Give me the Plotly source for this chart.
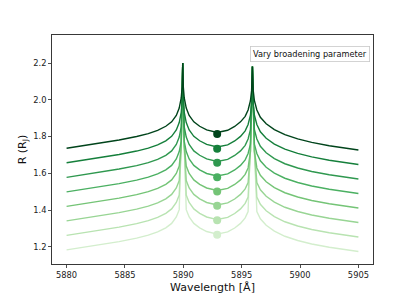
import plotly.graph_objects as go

# ---- data ----
wavelength = [5880, 5881.5, 5883, 5884.5, 5886, 5887, 5887.8, 5888.5, 5889.0, 5889.4,
              5889.65, 5889.82, 5889.9, 5889.95, 5890.0, 5890.08, 5890.25, 5890.5, 5890.9, 5891.4,
              5892.0, 5892.9, 5893.8, 5894.4, 5894.9, 5895.3, 5895.55, 5895.75, 5895.85, 5895.92,
              5895.99, 5896.09, 5896.3, 5896.6, 5897.1, 5897.8, 5898.7, 5899.8, 5901, 5902.5, 5905]

radius_b8 = [1.736, 1.750, 1.765, 1.781, 1.800, 1.816, 1.834, 1.856, 1.880, 1.915,
             1.955, 2.010, 2.070, 2.200, 2.070, 2.010, 1.955, 1.915, 1.880, 1.856,
             1.836, 1.822, 1.834, 1.855, 1.880, 1.910, 1.945, 1.995, 2.050, 2.181,
             2.050, 1.995, 1.945, 1.905, 1.870, 1.838, 1.810, 1.787, 1.768, 1.750, 1.727]
radius_b7 = [1.657, 1.671, 1.686, 1.702, 1.721, 1.737, 1.755, 1.777, 1.801, 1.836,
             1.876, 1.931, 2.000, 2.200, 2.000, 1.931, 1.876, 1.836, 1.801, 1.777,
             1.757, 1.743, 1.755, 1.776, 1.801, 1.831, 1.866, 1.916, 1.980, 2.181,
             1.980, 1.916, 1.866, 1.826, 1.791, 1.759, 1.731, 1.708, 1.689, 1.671, 1.648]
radius_b6 = [1.578, 1.592, 1.607, 1.623, 1.642, 1.658, 1.676, 1.698, 1.722, 1.757,
             1.797, 1.852, 2.000, 2.200, 2.000, 1.852, 1.797, 1.757, 1.722, 1.698,
             1.678, 1.664, 1.676, 1.697, 1.722, 1.752, 1.787, 1.837, 1.980, 2.181,
             1.980, 1.837, 1.787, 1.747, 1.712, 1.680, 1.652, 1.629, 1.610, 1.592, 1.569]
radius_b5 = [1.499, 1.513, 1.528, 1.544, 1.563, 1.579, 1.597, 1.619, 1.643, 1.678,
             1.718, 1.773, 2.000, 2.200, 2.000, 1.773, 1.718, 1.678, 1.643, 1.619,
             1.599, 1.585, 1.597, 1.618, 1.643, 1.673, 1.708, 1.758, 1.980, 2.181,
             1.980, 1.758, 1.708, 1.668, 1.633, 1.601, 1.573, 1.550, 1.531, 1.513, 1.490]
radius_b4 = [1.420, 1.434, 1.449, 1.465, 1.484, 1.500, 1.518, 1.540, 1.564, 1.599,
             1.639, 1.750, 2.000, 2.200, 2.000, 1.750, 1.639, 1.599, 1.564, 1.540,
             1.520, 1.506, 1.518, 1.539, 1.564, 1.594, 1.629, 1.720, 1.980, 2.181,
             1.980, 1.720, 1.629, 1.589, 1.554, 1.522, 1.494, 1.471, 1.452, 1.434, 1.411]
radius_b3 = [1.341, 1.355, 1.370, 1.386, 1.405, 1.421, 1.439, 1.461, 1.485, 1.520,
             1.560, 1.750, 2.000, 2.200, 2.000, 1.750, 1.560, 1.520, 1.485, 1.461,
             1.441, 1.427, 1.439, 1.460, 1.485, 1.515, 1.550, 1.720, 1.980, 2.181,
             1.980, 1.720, 1.550, 1.510, 1.475, 1.443, 1.415, 1.392, 1.373, 1.355, 1.332]
radius_b2 = [1.262, 1.276, 1.291, 1.307, 1.326, 1.342, 1.360, 1.382, 1.406, 1.441,
             1.481, 1.750, 2.000, 2.200, 2.000, 1.750, 1.481, 1.441, 1.406, 1.382,
             1.362, 1.348, 1.360, 1.381, 1.406, 1.436, 1.471, 1.720, 1.980, 2.181,
             1.980, 1.720, 1.471, 1.431, 1.396, 1.364, 1.336, 1.313, 1.294, 1.276, 1.253]
radius_b1 = [1.183, 1.197, 1.212, 1.228, 1.247, 1.263, 1.281, 1.303, 1.327, 1.362,
             1.402, 1.750, 2.000, 2.200, 2.000, 1.750, 1.402, 1.362, 1.327, 1.303,
             1.283, 1.269, 1.281, 1.302, 1.327, 1.357, 1.392, 1.720, 1.980, 2.181,
             1.980, 1.720, 1.392, 1.352, 1.317, 1.285, 1.257, 1.234, 1.215, 1.197, 1.174]

marker_wavelength = 5892.9
marker_radius = [1.265, 1.344, 1.423, 1.501, 1.579, 1.657, 1.734, 1.814]

colors = ["#d3eecd", "#b8e3b1", "#98d594", "#74c476", "#4bb062", "#2f984f", "#157f3b", "#00441b"]
curves = [radius_b1, radius_b2, radius_b3, radius_b4, radius_b5, radius_b6, radius_b7, radius_b8]

x_ticks = [5880, 5885, 5890, 5895, 5900, 5905]
y_ticks = [1.2, 1.4, 1.6, 1.8, 2.0, 2.2]

fig = go.Figure()
for col, r in zip(colors, curves):
    fig.add_trace(go.Scatter(x=wavelength, y=r, mode="lines",
                             line=dict(color=col, width=1.4), showlegend=False,
                             hoverinfo="skip"))
for col, r in zip(colors, marker_radius):
    fig.add_trace(go.Scatter(x=[marker_wavelength], y=[r], mode="markers",
                             marker=dict(color=col, size=8, line=dict(width=0)),
                             showlegend=False))

font_family = "DejaVu Sans"
fig.update_layout(
    width=415, height=297,
    margin=dict(l=52, r=42, t=35, b=33, autoexpand=False),
    paper_bgcolor="white", plot_bgcolor="white",
    font=dict(family=font_family, color="#222"),
)
axis_common = dict(showline=True, mirror=True, linecolor="#222", linewidth=0.9,
                   ticks="outside", ticklen=3, tickwidth=0.8, tickcolor="#222",
                   showgrid=False, zeroline=False,
                   tickfont=dict(family=font_family, size=8.3, color="#222"))
fig.update_xaxes(range=[5878.75, 5906.25], tickvals=x_ticks,
                 ticktext=[str(v) for v in x_ticks],
                 title=dict(text="Wavelength [Å]", font=dict(family=font_family, size=11, color="#111"),
                            standoff=4),
                 automargin=False, **axis_common)
fig.update_yaxes(range=[1.106, 2.353], tickvals=y_ticks,
                 ticktext=["%.1f" % v for v in y_ticks],
                 title=dict(text="R (R<sub>J</sub>)", font=dict(family=font_family, size=11, color="#111"),
                            standoff=4),
                 automargin=False, **axis_common)

fig.add_annotation(text="Vary broadening parameter", xref="paper", yref="paper",
                   x=0.992, y=0.95, xanchor="right", yanchor="top", showarrow=False,
                   font=dict(family=font_family, size=8.2, color="#111"),
                   bordercolor="#c8c8c8", borderwidth=0.8, borderpad=2.2, bgcolor="white")

fig.write_html("out.html", config={"displayModeBar": False, "staticPlot": True})

# remove the browser's default page margin so the figure sits at the window origin
with open("out.html", "r", encoding="utf-8") as fh:
    html = fh.read()
html = html.replace("<head>", "<head><style>html,body{margin:0;padding:0;}</style>", 1)
with open("out.html", "w", encoding="utf-8") as fh:
    fh.write(html)
